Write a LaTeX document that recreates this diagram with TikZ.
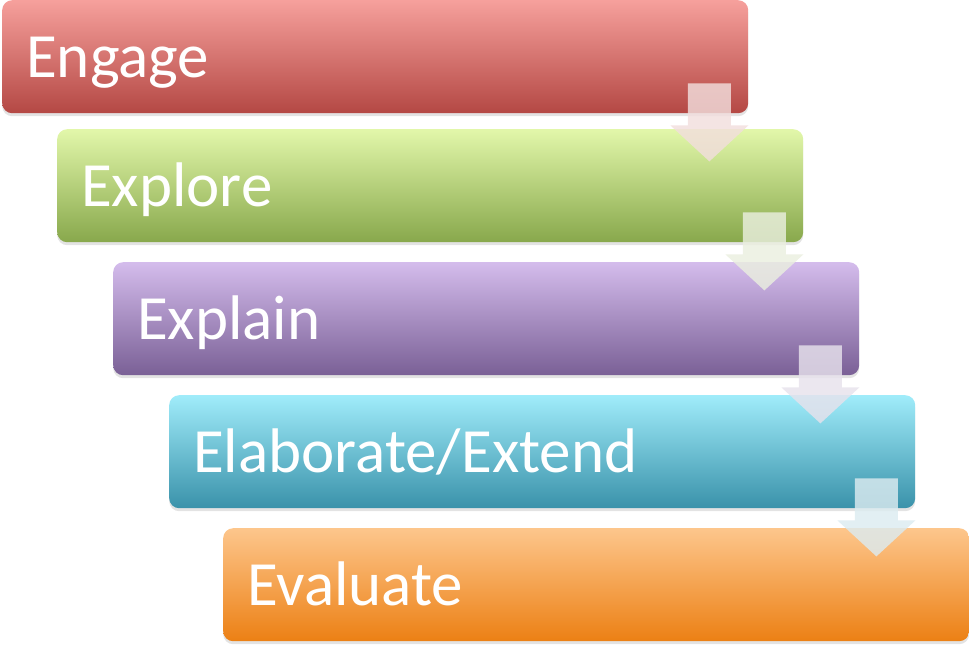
\documentclass[tikz,border=0pt]{standalone}
\usepackage{fontspec}
\setmainfont{Carlito}
\usetikzlibrary{calc,shadows}
\definecolor{rTop}{RGB}{246,160,156}
\definecolor{rBot}{RGB}{180,72,68}
\definecolor{gTop}{RGB}{226,247,170}
\definecolor{gBot}{RGB}{136,168,76}
\definecolor{pTop}{RGB}{212,188,236}
\definecolor{pBot}{RGB}{122,96,150}
\definecolor{cTop}{RGB}{160,236,250}
\definecolor{cBot}{RGB}{58,146,170}
\definecolor{oTop}{RGB}{253,198,140}
\definecolor{oBot}{RGB}{236,128,20}
\tikzset{
  stagebox/.style={rectangle, rounded corners=10pt, minimum width=746pt, minimum height=113pt,
    anchor=north west, inner sep=0pt, draw=none,
    drop shadow={shadow xshift=0pt, shadow yshift=-3pt, opacity=0.22}},
  stagetext/.style={anchor=base west, text=white, inner sep=0pt,
    font=\fontsize{63}{70}\selectfont},
  flowarrow/.style={draw=none, fill opacity=0.82}
}
\begin{document}
\begin{tikzpicture}[x=1pt,y=-1pt]
\useasboundingbox (0,0) rectangle (969,645);
\node[stagebox, top color=rTop, bottom color=rBot] (b1) at (2,0) {};
\node[stagebox, top color=gTop, bottom color=gBot] (b2) at (57,129) {};
\node[stagebox, top color=pTop, bottom color=pBot] (b3) at (113,262) {};
\node[stagebox, top color=cTop, bottom color=cBot] (b4) at (169,395) {};
\node[stagebox, top color=oTop, bottom color=oBot] (b5) at (223,528) {};
\node[stagetext] (t1) at ($(b1.north west)+(24,77)$) {Engage};
\node[stagetext] (t2) at ($(b2.north west)+(24,77)$) {Explore};
\node[stagetext] (t3) at ($(b3.north west)+(24,77)$) {Explain};
\node[stagetext] (t4) at ($(b4.north west)+(24,77)$) {Elaborate/Extend};
\node[stagetext] (t5) at ($(b5.north west)+(24,77)$) {Evaluate};
\foreach \s/\c in {b1/rBot, b2/gBot, b3/pBot, b4/cBot}{
  \coordinate (a) at ($(\s.south east)+(-39,0)$);
  \fill[flowarrow, fill=\c!18] ($(a)+(-21.5,-30)$) -- ($(a)+(21.5,-30)$) -- ($(a)+(21.5,12)$)
    -- ($(a)+(39,12)$) -- ($(a)+(0,48)$) -- ($(a)+(-39,12)$) -- ($(a)+(-21.5,12)$) -- cycle;
}
\end{tikzpicture}
\end{document}
